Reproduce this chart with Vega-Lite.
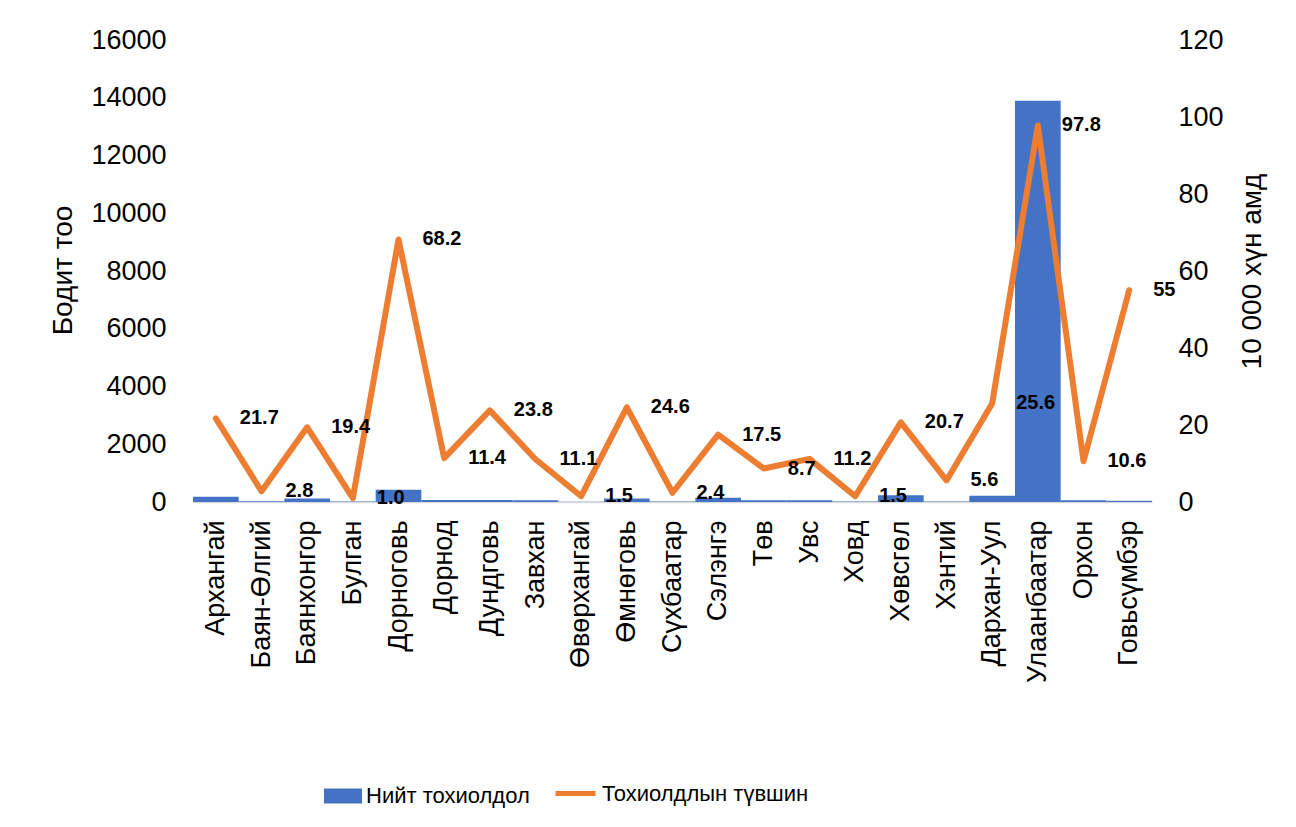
{
  "$schema": "https://vega.github.io/schema/vega-lite/v6.json",
  "autosize": {"type": "none"},
  "padding": {"left": 193, "top": 40, "right": 144, "bottom": 325},
  "width": 959,
  "height": 462,
  "background": "white",
  "config": {
    "font": "Liberation Sans",
    "view": {"stroke": null},
    "axis": {"grid": false, "ticks": false, "labelColor": "#000", "titleColor": "#000", "titleFontWeight": "normal"}
  },
  "data": {
    "values": [
      {"region": "Архангай", "cases": 180, "rate": 21.7, "label": "21.7"},
      {"region": "Баян-Өлгий", "cases": 30, "rate": 2.8, "label": "2.8"},
      {"region": "Баянхонгор", "cases": 120, "rate": 19.4, "label": "19.4"},
      {"region": "Булган", "cases": 20, "rate": 1.0, "label": "1.0"},
      {"region": "Дорноговь", "cases": 420, "rate": 68.2, "label": "68.2"},
      {"region": "Дорнод", "cases": 70, "rate": 11.4, "label": "11.4"},
      {"region": "Дундговь", "cases": 70, "rate": 23.8, "label": "23.8"},
      {"region": "Завхан", "cases": 60, "rate": 11.1, "label": "11.1"},
      {"region": "Өвөрхангай", "cases": 10, "rate": 1.5, "label": "1.5"},
      {"region": "Өмнөговь", "cases": 120, "rate": 24.6, "label": "24.6"},
      {"region": "Сүхбаатар", "cases": 15, "rate": 2.4, "label": "2.4"},
      {"region": "Сэлэнгэ", "cases": 150, "rate": 17.5, "label": "17.5"},
      {"region": "Төв", "cases": 60, "rate": 8.7, "label": "8.7"},
      {"region": "Увс", "cases": 60, "rate": 11.2, "label": "11.2"},
      {"region": "Ховд", "cases": 15, "rate": 1.5, "label": "1.5"},
      {"region": "Хөвсгөл", "cases": 230, "rate": 20.7, "label": "20.7"},
      {"region": "Хэнтий", "cases": 15, "rate": 5.6, "label": "5.6"},
      {"region": "Дархан-Уул", "cases": 220, "rate": 25.6, "label": "25.6"},
      {"region": "Улаанбаатар", "cases": 13900, "rate": 97.8, "label": "97.8"},
      {"region": "Орхон", "cases": 60, "rate": 10.6, "label": "10.6"},
      {"region": "Говьсүмбэр", "cases": 40, "rate": 55, "label": "55"}
    ]
  },
  "encoding": {
    "x": {
      "field": "region", "type": "nominal", "sort": null,
      "scale": {"paddingInner": 0, "paddingOuter": 0},
      "axis": {"title": null, "labelAngle": -90, "labelFontSize": 27, "labelPadding": 18, "labelLimit": 0, "domainColor": "#D9D9D9", "domainWidth": 1.5}
    }
  },
  "layer": [
    {
      "mark": {"type": "bar"},
      "encoding": {
        "y": {
          "field": "cases", "type": "quantitative",
          "scale": {"domain": [0, 16000]},
          "axis": {"title": "Бодит тоо", "values": [0,2000,4000,6000,8000,10000,12000,14000,16000], "format": "d", "domain": false, "labelFontSize": 27, "labelPadding": 27, "titleFontSize": 28, "titleX": -130, "titleY": 230, "titleAngle": 270, "titleAlign": "center", "titleBaseline": "middle"}
        },
        "color": {
          "datum": "Нийт тохиолдол",
          "scale": {"range": ["#4472C4"]},
          "legend": {"title": null, "orient": "none", "legendX": 131, "legendY": 737, "padding": 0, "symbolType": "M-1,-0.4H1V0.4H-1Z", "symbolSize": 1444, "symbolStrokeWidth": 0, "labelFontSize": 22, "labelOffset": 4, "labelLimit": 0, "labelColor": "#000"}
        }
      }
    },
    {
      "layer": [
        {
          "mark": {"type": "line", "strokeWidth": 6, "strokeJoin": "round", "strokeCap": "round"},
          "encoding": {
            "y": {
              "field": "rate", "type": "quantitative",
              "scale": {"domain": [0, 120]},
              "axis": {"orient": "right", "title": "10 000 хүн амд", "values": [0,20,40,60,80,100,120], "domain": false, "labelFontSize": 27, "labelPadding": 26, "titleFontSize": 28, "titleX": 100, "titleY": 231, "titleAngle": 270, "titleAlign": "center", "titleBaseline": "middle"}
            },
            "stroke": {
              "datum": "Тохиолдлын түвшин",
              "scale": {"range": ["#ED7D31"]},
              "legend": {"title": null, "orient": "none", "legendX": 360, "legendY": 731, "padding": 0, "symbolType": "stroke", "symbolSize": 1600, "symbolStrokeWidth": 5, "labelFontSize": 22, "labelOffset": 4, "labelLimit": 0, "labelColor": "#000"}
            }
          }
        },
        {
          "mark": {"type": "text", "align": "left", "baseline": "middle", "dx": 24, "fontSize": 20, "fontWeight": "bold", "color": "#000"},
          "encoding": {
            "y": {"field": "rate", "type": "quantitative"},
            "text": {"field": "label", "type": "nominal"}
          }
        }
      ]
    }
  ],
  "resolve": {"scale": {"y": "independent"}}
}
